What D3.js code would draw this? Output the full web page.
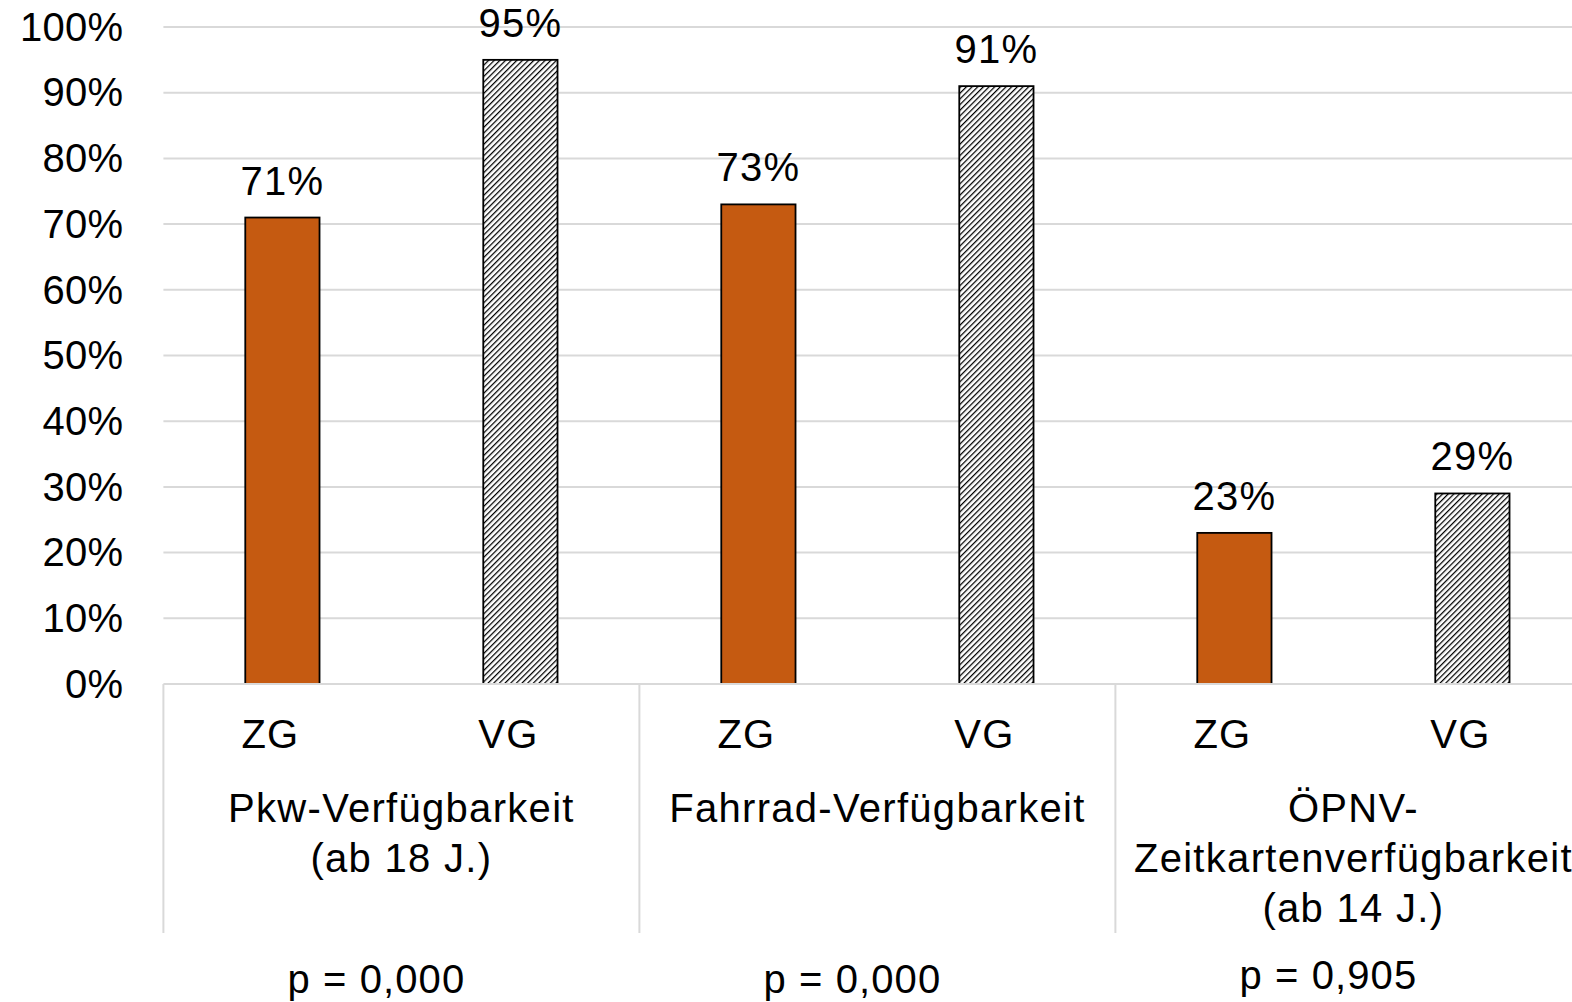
<!DOCTYPE html>
<html>
<head>
<meta charset="utf-8">
<script src="https://cdn.jsdelivr.net/npm/d3@7"></script>
<style>
  html, body { margin: 0; padding: 0; background: #fff; overflow: hidden; }
  svg { display: block; font-family: "Liberation Sans", Arial, sans-serif; }
</style>
</head>
<body>
<svg id="chart" width="1572" height="1002"></svg>
<script>
// Availability of mobility options: target group (ZG) vs. comparison group (VG)
const groups = ["ZG", "VG"];
const categories = ["Pkw", "Fahrrad", "OEPNV"];
const categoryLabels = [
  ["Pkw-Verfügbarkeit", "(ab 18 J.)"],
  ["Fahrrad-Verfügbarkeit"],
  ["ÖPNV-", "Zeitkartenverfügbarkeit", "(ab 14 J.)"]
];
const valuesZG = [0.71, 0.73, 0.23];
const valuesVG = [0.95, 0.91, 0.29];
const pValues = ["p = 0,000", "p = 0,000", "p = 0,905"];
const yTicks = [0, 0.1, 0.2, 0.3, 0.4, 0.5, 0.6, 0.7, 0.8, 0.9, 1.0];

const rows = categories.map((c, i) => ({
  cat: c,
  bars: [
    { group: "ZG", value: valuesZG[i] },
    { group: "VG", value: valuesVG[i] }
  ]
}));

const svg = d3.select("#chart");
const plotLeft = 163.4, catW = 476, plotTop = 27, plotBottom = 684;
const FS = 40;

const x0 = d3.scaleBand().domain(categories).range([plotLeft, plotLeft + catW * categories.length]).padding(0);
const x1 = d3.scaleBand().domain(groups).range([0, x0.bandwidth()])
  .paddingInner(0.688).paddingOuter(0.344);
const y = d3.scaleLinear().domain([0, 1]).range([plotBottom, plotTop]);

const defs = svg.append("defs");
const pat = defs.append("pattern")
  .attr("id", "hatch")
  .attr("patternUnits", "userSpaceOnUse")
  .attr("width", 4).attr("height", 4)
  .attr("patternTransform", "rotate(45)");
pat.append("rect").attr("width", 4).attr("height", 4).attr("fill", "#fff");
pat.append("line").attr("x1", 0).attr("y1", 0).attr("x2", 0).attr("y2", 4)
  .attr("stroke", "#000").attr("stroke-width", 2.5);

// gridlines
svg.append("g")
  .selectAll("line")
  .data(yTicks.filter(t => t > 0))
  .join("line")
  .attr("x1", plotLeft).attr("x2", 1572)
  .attr("y1", d => y(d)).attr("y2", d => y(d))
  .attr("stroke", "#d9d9d9").attr("stroke-width", 2);

// y axis labels
const yAxis = svg.append("g").attr("transform", `translate(${plotLeft - 40},0)`)
  .call(d3.axisLeft(y).tickValues(yTicks).tickFormat(d3.format(".0%")).tickSize(0).tickPadding(0));
yAxis.select(".domain").remove();
yAxis.selectAll("text")
  .attr("font-size", FS).attr("fill", "#000")
  .attr("font-family", "Liberation Sans, Arial, sans-serif")
  .attr("letter-spacing", 0.3)
  .attr("dy", "0.33em");

// bars
const catG = svg.append("g").selectAll("g").data(rows).join("g")
  .attr("transform", d => `translate(${x0(d.cat)},0)`);

catG.selectAll("rect").data(d => d.bars).join("rect")
  .attr("x", d => x1(d.group))
  .attr("width", x1.bandwidth())
  .attr("y", d => y(d.value))
  .attr("height", d => y(0) - y(d.value))
  .attr("fill", d => d.group === "ZG" ? "#c55a11" : "url(#hatch)")
  .attr("stroke", "#000").attr("stroke-width", 1.8);

catG.selectAll("text.val").data(d => d.bars).join("text")
  .attr("class", "val")
  .attr("x", d => x1(d.group) + x1.bandwidth() / 2)
  .attr("y", d => y(d.value) - 23)
  .attr("text-anchor", "middle")
  .attr("font-size", FS).attr("fill", "#000")
  .attr("letter-spacing", 1.2)
  .text(d => d3.format(".0%")(d.value));

// baseline and category separators
svg.append("line")
  .attr("x1", plotLeft).attr("x2", 1572).attr("y1", plotBottom).attr("y2", plotBottom)
  .attr("stroke", "#d9d9d9").attr("stroke-width", 2);
svg.append("g").selectAll("line").data(categories).join("line")
  .attr("x1", d => x0(d)).attr("x2", d => x0(d))
  .attr("y1", plotBottom).attr("y2", 933)
  .attr("stroke", "#d9d9d9").attr("stroke-width", 2);

// group labels
catG.selectAll("text.grp").data(d => d.bars).join("text")
  .attr("class", "grp")
  .attr("x", d => x1(d.group) + x1.bandwidth() / 2 - 12)
  .attr("y", 748)
  .attr("text-anchor", "middle")
  .attr("font-size", FS).attr("fill", "#000")
  .attr("letter-spacing", 1.2)
  .text(d => d.group);

// category labels
catG.append("text")
  .attr("text-anchor", "middle")
  .attr("font-size", FS).attr("fill", "#000")
  .attr("letter-spacing", 1.3)
  .selectAll("tspan")
  .data((d, i) => categoryLabels[i])
  .join("tspan")
  .attr("x", x0.bandwidth() / 2)
  .attr("y", (d, i) => 822 + i * 50)
  .text(d => d);

// significance values
catG.append("text")
  .attr("x", x0.bandwidth() / 2 - 25)
  .attr("y", (d, i) => i === 2 ? 989 : 993)
  .attr("text-anchor", "middle")
  .attr("font-size", FS).attr("fill", "#000")
  .attr("letter-spacing", 1.1)
  .text((d, i) => pValues[i]);
</script>
</body>
</html>
